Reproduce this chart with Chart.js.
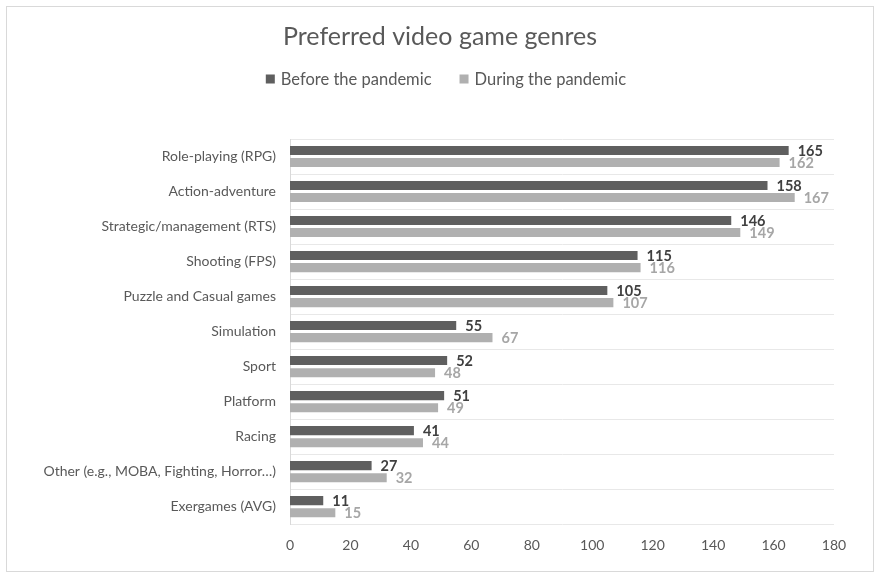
<!DOCTYPE html>
<html>
<head>
<meta charset="utf-8">
<script src="https://cdn.jsdelivr.net/npm/chart.js@4.4.1/dist/chart.umd.min.js"></script>
<style>
  html, body { margin: 0; padding: 0; background: #fff; }
  #wrap { position: relative; width: 880px; height: 575px; }
</style>
</head>
<body>
<div id="wrap"><canvas id="genres" width="880" height="575"></canvas></div>
<script>
"use strict";

// Genres, top to bottom
var genres = [
  "Role-playing (RPG)",
  "Action-adventure",
  "Strategic/management (RTS)",
  "Shooting (FPS)",
  "Puzzle and Casual games",
  "Simulation",
  "Sport",
  "Platform",
  "Racing",
  "Other (e.g., MOBA, Fighting, Horror\u2026)",
  "Exergames (AVG)"
];
var beforePandemic = [165, 158, 146, 115, 105, 55, 52, 51, 41, 27, 11];
var duringPandemic = [162, 167, 149, 116, 107, 67, 48, 49, 44, 32, 15];
var seriesNames = ["Before the pandemic", "During the pandemic"];
var chartTitle = "Preferred video game genres";

var FONT = "Lato, 'Open Sans', sans-serif";
var TEXT = "#595959";
var DARK = "#5f5f5f";
var LIGHT = "#b0b0b0";

// outer frame around the whole figure
var framePlugin = {
  id: "frame",
  beforeDraw: function(chart) {
    var ctx = chart.ctx;
    ctx.save();
    ctx.fillStyle = "#fff";
    ctx.fillRect(0, 0, chart.width, chart.height);
    ctx.strokeStyle = "#d9d9d9";
    ctx.lineWidth = 1;
    ctx.strokeRect(6.5, 6.5, chart.width - 13, chart.height - 10);
    ctx.restore();
  }
};

// title + legend row, centred on the canvas (plot area is off-centre)
var header = {
  id: "header",
  afterDraw: function(chart) {
    var ctx = chart.ctx;
    ctx.save();
    ctx.textBaseline = "middle";
    ctx.fillStyle = TEXT;
    ctx.font = "25px " + FONT;
    ctx.textAlign = "center";
    ctx.fillText(chartTitle, chart.width / 2, 37);

    var box = 9, gap = 6, spacing = 28, y = 79;
    ctx.font = "16.5px " + FONT;
    ctx.textAlign = "left";
    var items = chart.data.datasets.map(function(ds) {
      return { text: ds.label, color: ds.backgroundColor, w: ctx.measureText(ds.label).width };
    });
    var total = items.reduce(function(s, it) { return s + box + gap + it.w; }, 0) + spacing * (items.length - 1);
    var x = 446 - total / 2;
    items.forEach(function(it) {
      ctx.fillStyle = it.color;
      ctx.fillRect(x, y - box / 2, box, box);
      x += box + gap;
      ctx.fillStyle = TEXT;
      ctx.fillText(it.text, x, y + 1);
      x += it.w + spacing;
    });
    ctx.restore();
  }
};

// value labels at the end of each bar
var valueLabels = {
  id: "valueLabels",
  afterDatasetsDraw: function(chart) {
    var ctx = chart.ctx;
    ctx.save();
    ctx.textAlign = "left";
    ctx.textBaseline = "middle";
    ctx.font = "bold 14.5px " + FONT;
    chart.data.datasets.forEach(function(ds, i) {
      var meta = chart.getDatasetMeta(i);
      ctx.fillStyle = i === 0 ? "#404040" : "#a6a6a6";
      meta.data.forEach(function(bar, j) {
        ctx.fillText(String(ds.data[j]), bar.x + 9, bar.y + 1);
      });
    });
    ctx.restore();
  }
};

new Chart(document.getElementById("genres").getContext("2d"), {
  type: "bar",
  data: {
    labels: genres,
    datasets: [
      { label: seriesNames[0], data: beforePandemic, backgroundColor: DARK, borderWidth: 0 },
      { label: seriesNames[1], data: duringPandemic, backgroundColor: LIGHT, borderWidth: 0 }
    ]
  },
  options: {
    indexAxis: "y",
    responsive: false,
    animation: false,
    devicePixelRatio: 1,
    categoryPercentage: 0.69,
    barPercentage: 0.75,
    layout: { padding: { top: 139, right: 46, bottom: 16, left: 0 } },
    plugins: {
      title: { display: false },
      legend: { display: false },
      tooltip: { enabled: false }
    },
    scales: {
      x: {
        min: 0,
        max: 180,
        ticks: { stepSize: 20, color: TEXT, font: { family: FONT, size: 14 }, padding: 5 },
        grid: { display: false },
        border: { display: false }
      },
      y: {
        afterFit: function(scale) { scale.width = 290; },
        ticks: { color: TEXT, font: { family: FONT, size: 14 }, padding: 14 },
        grid: { color: "#e8e8e8", drawTicks: false },
        border: { color: "#d9d9d9" }
      }
    }
  },
  plugins: [framePlugin, header, valueLabels]
});
</script>
</body>
</html>
